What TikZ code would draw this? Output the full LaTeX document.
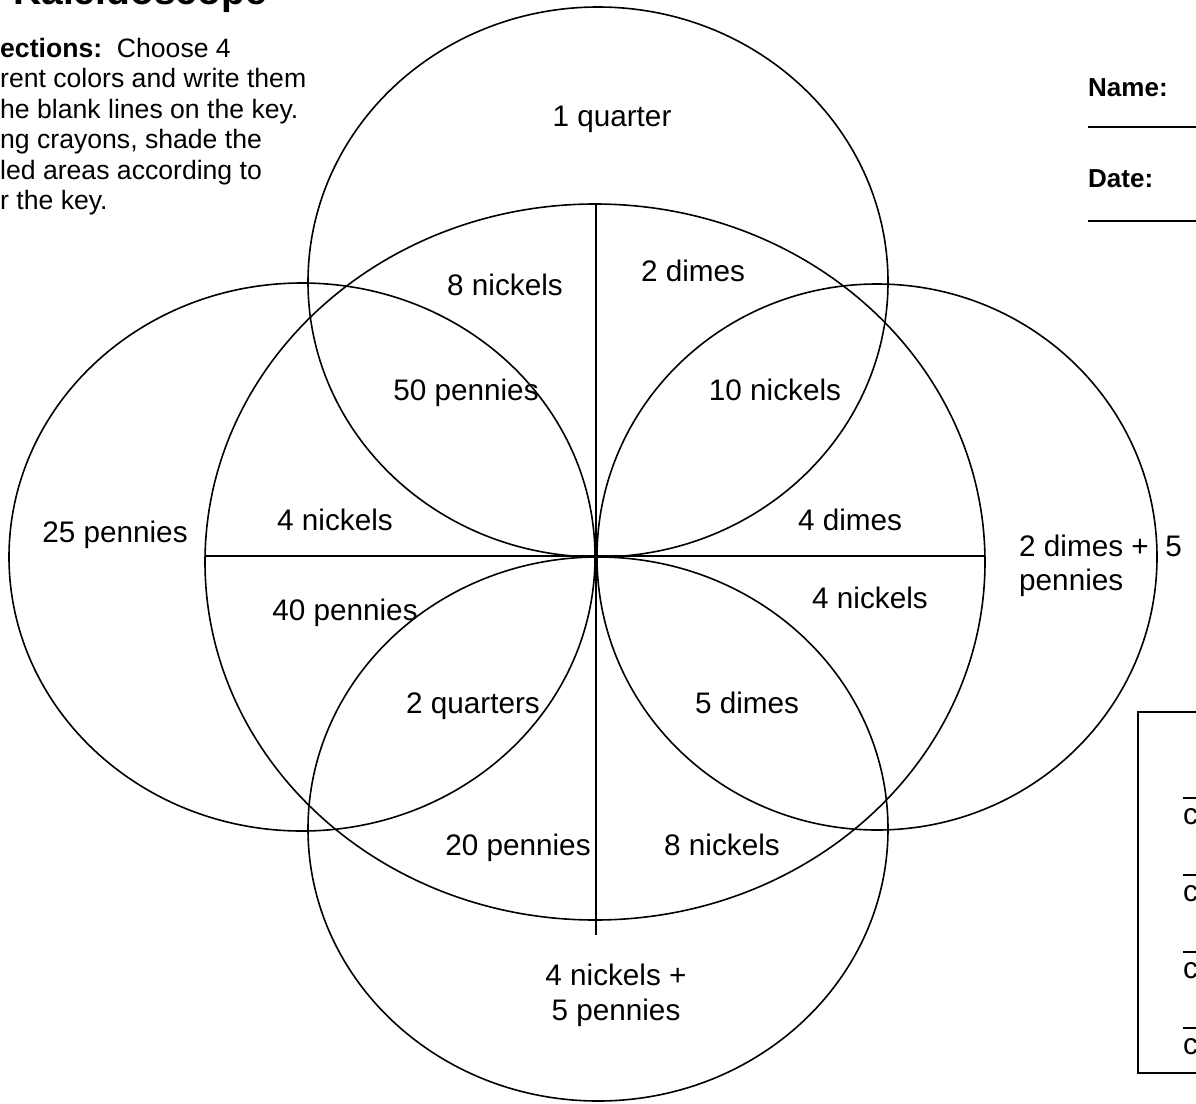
\documentclass[tikz,border=0pt]{standalone}
\usepackage{fontspec}
\setmainfont{Liberation Sans}
\usetikzlibrary{positioning}

\begin{document}
\begin{tikzpicture}[
  x=1pt, y=-1pt,
  ring/.style={draw, line width=1.6pt},
  lbl/.style={font=\fontsize{29.7}{34.5}\selectfont, inner sep=0pt, align=center, anchor=base},
  dir/.style={font=\fontsize{26.6}{30.5}\selectfont, inner sep=0pt, align=left, anchor=base west},
  tag/.style={font=\fontsize{26}{30}\selectfont\bfseries, inner sep=0pt, anchor=base west},
  blank/.style={line width=1.4pt}
]
  \useasboundingbox (0,0) rectangle (1196,1103);

  \coordinate (mid) at (596,556);
  \draw[ring] (595,562) ellipse [x radius=390pt, y radius=358pt];
  \draw[ring] (598,282) ellipse [x radius=290pt, y radius=275pt];
  \draw[ring] (302,557) ellipse [x radius=293pt, y radius=274pt];
  \draw[ring] (877,557) ellipse [x radius=280pt, y radius=273pt];
  \draw[ring] (598,829) ellipse [x radius=290pt, y radius=272pt];
  \draw[ring] (205,556) coordinate (hw) -- (mid) -- (985,556) coordinate (he);
  \draw[ring] (596,204) coordinate (vn) -- (mid) -- (596,935) coordinate (vs);

  \node[font=\fontsize{39}{45}\selectfont\bfseries, inner sep=0pt, anchor=base west] (title) at (13,4) {Kaleidoscope};
  % base of a multi-line node sits on its last line
  \node[dir] (directions) at (0,209.5) {\textbf{ections:}\ \ Choose 4\\rent colors and write them\\he blank lines on the key.\\ng crayons, shade the\\led areas according to\\r the key.};

  \node[tag] (name) at (1088,96) {Name:};
  \draw[blank] (1088,127) -- (1196,127);
  \node[tag] (date) at (1088,187) {Date:};
  \draw[blank] (1088,221) -- (1196,221);

  \node[lbl] (q1) at (612,126) {1 quarter};
  \node[lbl] (n8) at (505,295) {8 nickels};
  \node[lbl] (d2) at (693,281) {2 dimes};
  \node[lbl] (p50) at (466,400) {50 pennies};
  \node[lbl] (n10) at (775,400) {10 nickels};
  \node[lbl] (p25) at (115,542) {25 pennies};
  \node[lbl] (n4l) at (335,530) {4 nickels};
  \node[lbl] (d4) at (850,530) {4 dimes};
  \node[lbl, align=left, anchor=base west] (d2p5) at (1019,590.5) {2 dimes +\ \ 5\\pennies};
  \node[lbl] (p40) at (345,620) {40 pennies};
  \node[lbl] (n4r) at (870,608) {4 nickels};
  \node[lbl] (q2) at (473,713) {2 quarters};
  \node[lbl] (d5) at (747,713) {5 dimes};
  \node[lbl] (p20) at (518,855) {20 pennies};
  \node[lbl] (n8b) at (722,855) {8 nickels};
  \node[lbl] (n4p5) at (616,1020) {4 nickels +\\5 pennies};

  \draw[line width=1.6pt] (1196,712) -- (1138,712) -- (1138,1073) -- (1196,1073);
  \foreach \k/\y in {1/798,2/875,3/952,4/1028} {
    \draw[blank] (1183,\y) -- (1196,\y);
    \node[lbl, anchor=base west] (key\k) at (1183,\y+26) {c};
  }
\end{tikzpicture}
\end{document}
